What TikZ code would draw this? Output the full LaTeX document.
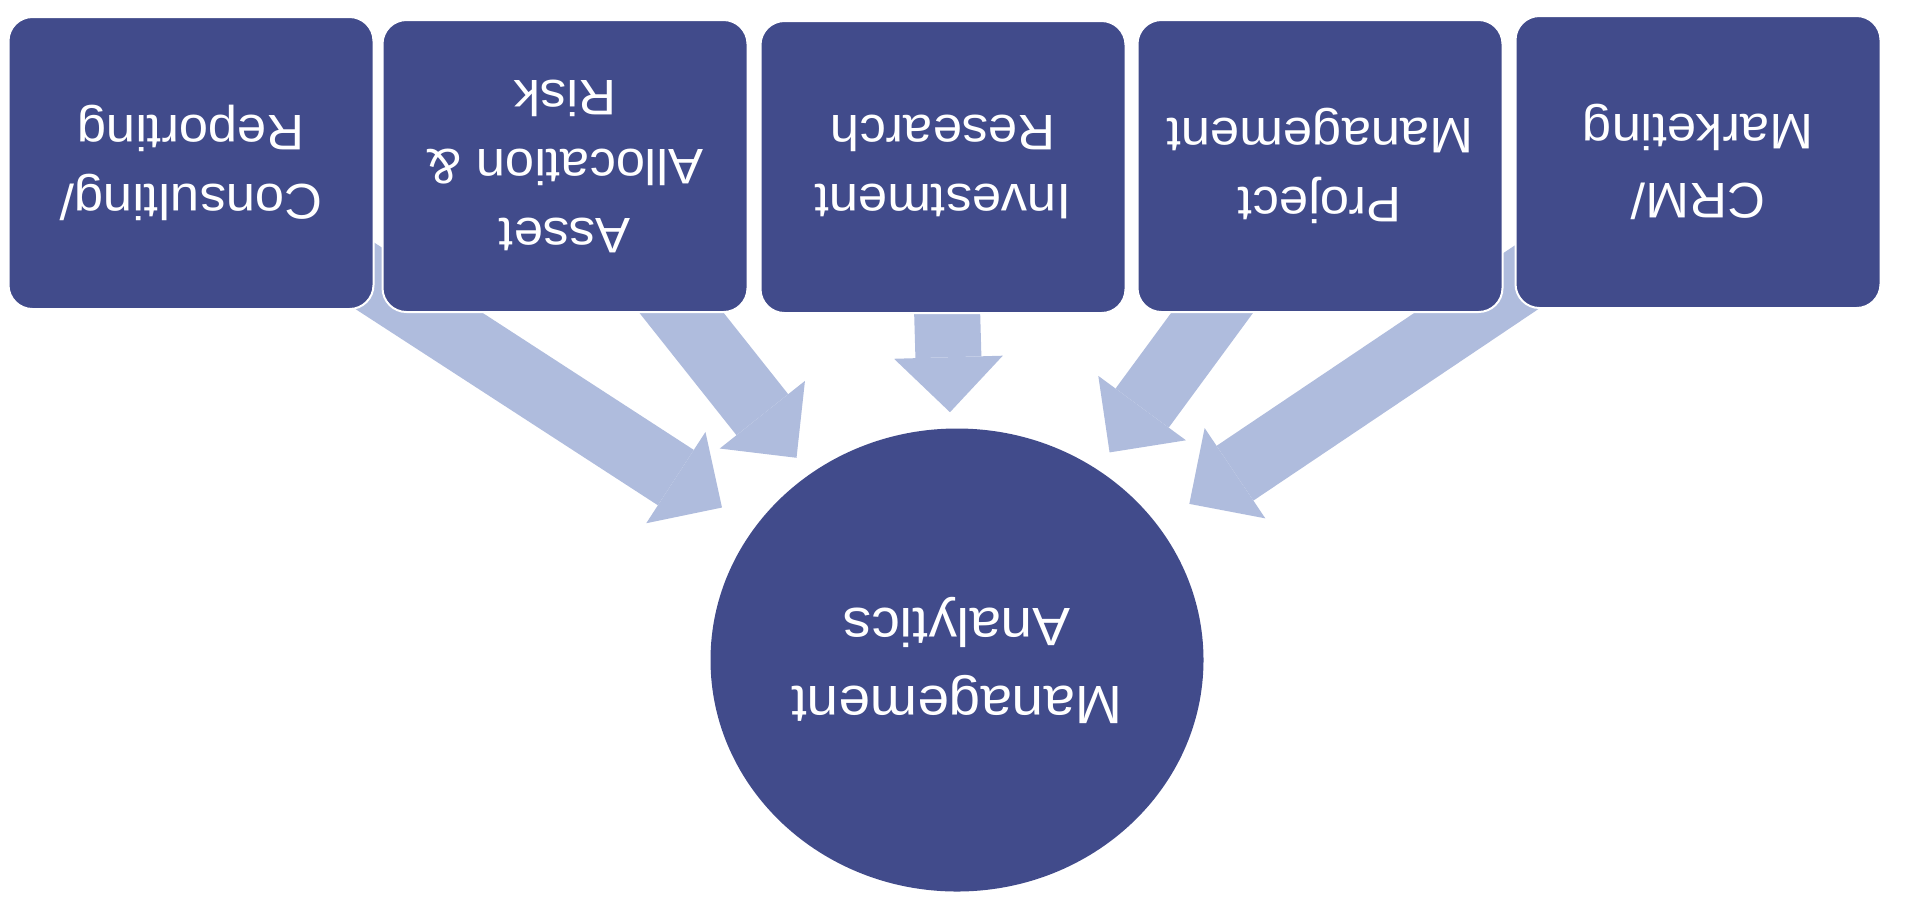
\documentclass[tikz,border=0pt]{standalone}
\usepackage{fontspec}
\setmainfont{Liberation Sans}[FakeStretch=1.05]
\usepackage{tikz}
\usetikzlibrary{arrows.meta,positioning,calc,shapes.geometric,backgrounds}
\definecolor{boxblue}{HTML}{414B8B}
\definecolor{flowblue}{HTML}{AFBCDD}
\begin{document}
\begin{tikzpicture}[x=0.5pt,y=-0.5pt,
  bx/.style={draw=white,line width=1pt,fill=boxblue,rounded corners=12pt,
    minimum width=182.5pt,minimum height=146pt,inner sep=0pt,rotate=180,
    align=center,text=white,font=\fontsize{25}{34.5}\selectfont},
  hub/.style={ellipse,fill=boxblue,minimum width=246.5pt,minimum height=231.5pt,
    inner sep=0pt,rotate=180,align=center,text=white,
    font=\fontsize{27}{39}\selectfont},
  fl/.style={draw=flowblue,line width=33pt,
    -{Triangle[length=27.5pt,width=54.4pt,line width=0pt]}}
]
\useasboundingbox (0,0) rectangle (1916,912);
% ---- top row: the five source boxes ----
\node[bx] (cr) at (191,163)  {Consulting/\\Reporting};
\node[bx] (aa) at (565,166)  {Asset\\Allocation \&\\Risk};
\node[bx] (ir) at (943,167)  {Investment\\Research};
\node[bx] (pm) at (1320,166) {Project\\Management};
\node[bx] (cm) at (1698,162) {CRM/\\Marketing};
% ---- centre ----
\node[hub] (ma) at (957,660) {Management\\Analytics};
% ---- converging arrows, behind the boxes ----
\begin{scope}[on background layer]
  \draw[fl,shorten >=19pt]   (cr.center) -- (ma);
  \draw[fl,shorten >=10.4pt] (aa.center) -- (ma);
  \draw[fl,shorten >=8pt]    (ir.center) -- (ma);
  \draw[fl,shorten >=10.4pt] (pm.center) -- (ma);
  \draw[fl,shorten >=19pt]   (cm.center) -- (ma);
\end{scope}
\end{tikzpicture}
\end{document}
